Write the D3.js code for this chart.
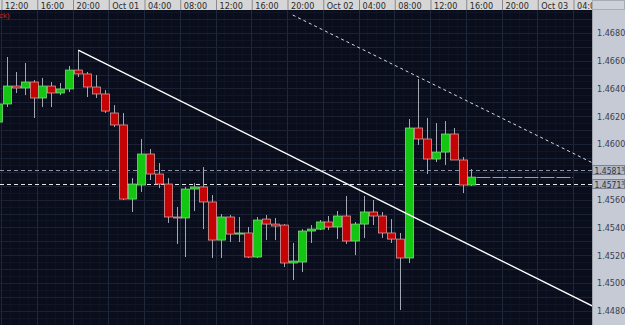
<!DOCTYPE html>
<html>
<head>
<meta charset="utf-8">
<script src="https://cdn.jsdelivr.net/npm/d3@7"></script>
<style>
  body { margin: 0; background: #0a0e1c; }
  svg { display: block; }
  .axis text { font-family: "Liberation Sans Narrow", "DejaVu Sans Condensed", "Liberation Sans", sans-serif; }
</style>
</head>
<body>
<svg id="chart"></svg>
<script>
// hourly candles, first one is the partial bar at the left edge (11:00 Sep 30)
const opens  = [1.46158,1.46288,1.46417,1.46403,1.46446,1.46331,1.46417,1.46367,1.46396,1.46532,1.46504,1.46410,1.46360,1.46223,
                1.46137,1.45604,1.45705,1.45928,1.45784,1.45712,1.45475,1.45468,1.45676,1.45691,1.45583,1.45309,1.45475,1.45352,
                1.45360,1.45187,1.45460,1.45424,1.45417,1.45144,1.45151,1.45374,1.45388,1.45439,1.45403,1.45482,1.45302,1.45424,
                1.45511,1.45482,1.45360,1.45316,1.45180,1.46115,1.46036,1.45892,1.45942,1.46072,1.45885,1.45705];
const highs  = [1.46316,1.46626,1.46518,1.46583,1.46460,1.46475,1.46446,1.46439,1.46561,1.46676,1.46518,1.46496,1.46388,1.46280,
                1.46223,1.45755,1.46036,1.45964,1.45863,1.45755,1.45547,1.45691,1.45719,1.45834,1.45633,1.45496,1.45489,1.45475,
                1.45403,1.45475,1.45489,1.45468,1.45424,1.45288,1.45388,1.45417,1.45453,1.45482,1.45518,1.45626,1.45439,1.45626,
                1.45597,1.45511,1.45460,1.45360,1.46180,1.46468,1.46187,1.46151,1.46165,1.46115,1.45906,1.45820];
const lows   = [1.46137,1.46266,1.46367,1.46352,1.46187,1.46266,1.46266,1.46352,1.46374,1.46482,1.46338,1.46331,1.46223,1.46122,
                1.45597,1.45511,1.45655,1.45741,1.45683,1.45432,1.45281,1.45187,1.45518,1.45388,1.45180,1.45180,1.45295,1.45295,
                1.45180,1.45180,1.45309,1.45309,1.45115,1.45022,1.45079,1.45288,1.45381,1.45381,1.45316,1.45281,1.45201,1.45324,
                1.45417,1.45324,1.45288,1.44806,1.45144,1.45993,1.45784,1.45870,1.45849,1.45885,1.45647,1.45698];
const closes = [1.46288,1.46417,1.46403,1.46446,1.46331,1.46417,1.46367,1.46396,1.46532,1.46504,1.46410,1.46360,1.46237,1.46137,
                1.45604,1.45712,1.45928,1.45784,1.45712,1.45475,1.45468,1.45676,1.45691,1.45583,1.45309,1.45475,1.45352,1.45360,
                1.45187,1.45453,1.45424,1.45410,1.45144,1.45158,1.45374,1.45388,1.45439,1.45403,1.45482,1.45302,1.45424,1.45511,
                1.45482,1.45360,1.45316,1.45180,1.46115,1.46036,1.45892,1.45942,1.46072,1.45885,1.45705,1.45762];

const priceTicks = [1.4680, 1.4660, 1.4640, 1.4620, 1.4600, 1.4560, 1.4540, 1.4520, 1.4500, 1.4480];
const bidAsk = [1.45813, 1.45713];

// drawn objects: [time, price] anchors
const trendSolid  = [[new Date(2009, 8, 30, 20), 1.46676], [new Date(2009, 9, 3, 5, 30), 1.44835]];
const trendDashed = [[new Date(2009, 9, 1, 20), 1.46928], [new Date(2009, 9, 3, 5, 30), 1.45866]];

const W = 625, H = 325;
const plot = { left: 0, right: 592, top: 10, bottom: 325 };

const start = new Date(2009, 8, 30, 12);
const data = opens.map((o, i) => ({
  t: d3.timeHour.offset(start, i - 1),
  o: o, h: highs[i], l: lows[i], c: closes[i]
}));

const x = d3.scaleTime()
  .domain([start, d3.timeHour.offset(start, 64)])
  .range([1, 573]);
const y = d3.scaleLinear()
  .domain([1.44698, 1.46964])
  .range([plot.bottom, plot.top]);
const cx = t => x(t) + 5.7;

const svg = d3.select('#chart').attr('width', W).attr('height', H);

svg.append('rect')
  .attr('width', W).attr('height', H)
  .attr('fill', '#0a0e1c');

svg.append('clipPath').attr('id', 'clip')
  .append('rect')
  .attr('x', plot.left).attr('y', plot.top)
  .attr('width', plot.right - plot.left).attr('height', plot.bottom - plot.top);

const chart = svg.append('g').attr('clip-path', 'url(#clip)');

// grid
const hours = x.ticks(d3.timeHour.every(1));
chart.selectAll('.vminor').data(hours).join('line')
  .attr('x1', d => Math.round(x(d)) + 0.5).attr('x2', d => Math.round(x(d)) + 0.5)
  .attr('y1', plot.top).attr('y2', plot.bottom)
  .attr('stroke', '#10162699').attr('stroke-width', 1);
const levels = d3.range(1.4470, 1.4700, 0.0005);
chart.selectAll('.hminor').data(levels).join('line')
  .attr('x1', plot.left).attr('x2', plot.right)
  .attr('y1', d => Math.round(y(d)) + 0.5).attr('y2', d => Math.round(y(d)) + 0.5)
  .attr('stroke', '#101626').attr('stroke-width', 1);

const timeTicks = x.ticks(d3.timeHour.every(4));
chart.selectAll('.vmajor').data(timeTicks).join('line')
  .attr('x1', d => Math.round(x(d)) + 0.5).attr('x2', d => Math.round(x(d)) + 0.5)
  .attr('y1', plot.top).attr('y2', plot.bottom)
  .attr('stroke', '#1f273b').attr('stroke-width', 1);
chart.selectAll('.hmajor').data(d3.range(1.4470, 1.4700, 0.001)).join('line')
  .attr('x1', plot.left).attr('x2', plot.right)
  .attr('y1', d => Math.round(y(d)) + 0.5).attr('y2', d => Math.round(y(d)) + 0.5)
  .attr('stroke', '#1a2234').attr('stroke-width', 1);

// bid / ask lines
chart.selectAll('.ba').data(bidAsk).join('line')
  .attr('x1', plot.left).attr('x2', plot.right)
  .attr('y1', d => Math.round(y(d)) + 0.5).attr('y2', d => Math.round(y(d)) + 0.5)
  .attr('stroke', (d, i) => i === 0 ? '#8e94a6' : '#e6e6e6')
  .attr('stroke-width', 1)
  .attr('stroke-dasharray', '4,3');

// candles
const candle = chart.selectAll('.candle').data(data).join('g');
candle.append('line')
  .attr('x1', d => Math.round(cx(d.t)) + 0.5).attr('x2', d => Math.round(cx(d.t)) + 0.5)
  .attr('y1', d => y(d.h)).attr('y2', d => y(d.l))
  .attr('stroke', '#a4a8b4').attr('stroke-width', 1);
candle.append('rect')
  .attr('x', d => Math.round(cx(d.t)) - 3.5)
  .attr('width', 8)
  .attr('y', d => y(Math.max(d.o, d.c)))
  .attr('height', d => Math.max(1, Math.abs(y(d.o) - y(d.c))))
  .attr('fill', d => d.c >= d.o ? '#12c612' : '#c40404')
  .attr('stroke', d => d.c >= d.o ? '#7ed87e' : '#d89a9a')
  .attr('stroke-width', 0.8);

// last price marker
const last = data[data.length - 1];
chart.append('line')
  .attr('x1', cx(last.t) + 5).attr('x2', x(d3.timeHour.offset(start, 64)))
  .attr('y1', Math.round(y(last.c)) + 0.5).attr('y2', Math.round(y(last.c)) + 0.5)
  .attr('stroke', '#9a9ea8').attr('stroke-width', 1)
  .attr('stroke-dasharray', '14,2');

// trend lines
const tl = d3.line().x(d => cx(d[0])).y(d => y(d[1]));
chart.append('path').datum(trendSolid)
  .attr('d', tl).attr('fill', 'none')
  .attr('stroke', '#ffffff').attr('stroke-width', 1.4);
chart.append('path').datum(trendDashed)
  .attr('d', tl).attr('fill', 'none')
  .attr('stroke', '#d8d8e0').attr('stroke-width', 1)
  .attr('stroke-dasharray', '3,3');

chart.append('text')
  .attr('x', -1).attr('y', 18)
  .attr('fill', '#c02828')
  .style('font-family', 'Liberation Sans Narrow, Liberation Sans, sans-serif')
  .style('font-size', '8px')
  .text('ck)');

// top time axis
svg.append('rect')
  .attr('x', 0).attr('y', 0).attr('width', W).attr('height', plot.top)
  .attr('fill', '#d6d6d6');
const fmt = d => d.getHours() === 0 ? d3.timeFormat('%b %d')(d) : d3.timeFormat('%H:%M')(d);
const xAxisG = svg.append('g')
  .attr('class', 'axis')
  .attr('transform', `translate(0.5,${plot.top})`)
  .call(d3.axisTop(x).tickValues(timeTicks).tickFormat(fmt).tickSizeInner(10).tickSizeOuter(0));
xAxisG.select('.domain').remove();
xAxisG.selectAll('.tick line').attr('stroke', '#8a8a8a');
xAxisG.selectAll('.tick text')
  .attr('text-anchor', 'start')
  .attr('x', 3).attr('y', -1.5).attr('dy', 0)
  .attr('fill', '#2a2a2a')
  .style('font-size', '9px');

// right price axis
svg.append('rect')
  .attr('x', plot.right).attr('y', 0).attr('width', W - plot.right).attr('height', H)
  .attr('fill', '#c6cad4');
svg.append('rect')
  .attr('x', plot.right + 0.5).attr('y', 0.5).attr('width', W - plot.right - 1).attr('height', plot.top - 1)
  .attr('fill', '#cdd1d9').attr('stroke', '#a8acb6');
svg.append('line')
  .attr('x1', plot.right + 0.5).attr('x2', plot.right + 0.5)
  .attr('y1', plot.top).attr('y2', H)
  .attr('stroke', '#9ea3ae');
const yAxisG = svg.append('g')
  .attr('class', 'axis')
  .attr('transform', `translate(${plot.right},0)`)
  .call(d3.axisRight(y).tickValues(priceTicks).tickFormat(d3.format('.4f')).tickSize(0).tickPadding(5));
yAxisG.select('.domain').remove();
yAxisG.selectAll('.tick text')
  .attr('fill', '#3a4050')
  .style('font-size', '9px');

// bid / ask tags
const tag = svg.selectAll('.tag').data(bidAsk).join('g')
  .attr('transform', d => `translate(${plot.right},${Math.round(y(d))})`);
tag.append('rect')
  .attr('x', 0.5).attr('y', -4.5).attr('width', W - plot.right - 1).attr('height', 9)
  .attr('fill', '#b2b8c4').attr('stroke', '#7c8290');
const tagText = tag.append('text')
  .attr('x', 2.5).attr('y', 3.5)
  .attr('fill', '#2e3442')
  .style('font-family', 'Liberation Sans Narrow, DejaVu Sans Condensed, sans-serif')
  .style('font-size', '8.5px');
tagText.append('tspan').text(d => d3.format('.5f')(d).slice(0, 6));
tagText.append('tspan').attr('dy', -2.5).style('font-size', '5.5px')
  .text(d => d3.format('.5f')(d).slice(6));
</script>
</body>
</html>
